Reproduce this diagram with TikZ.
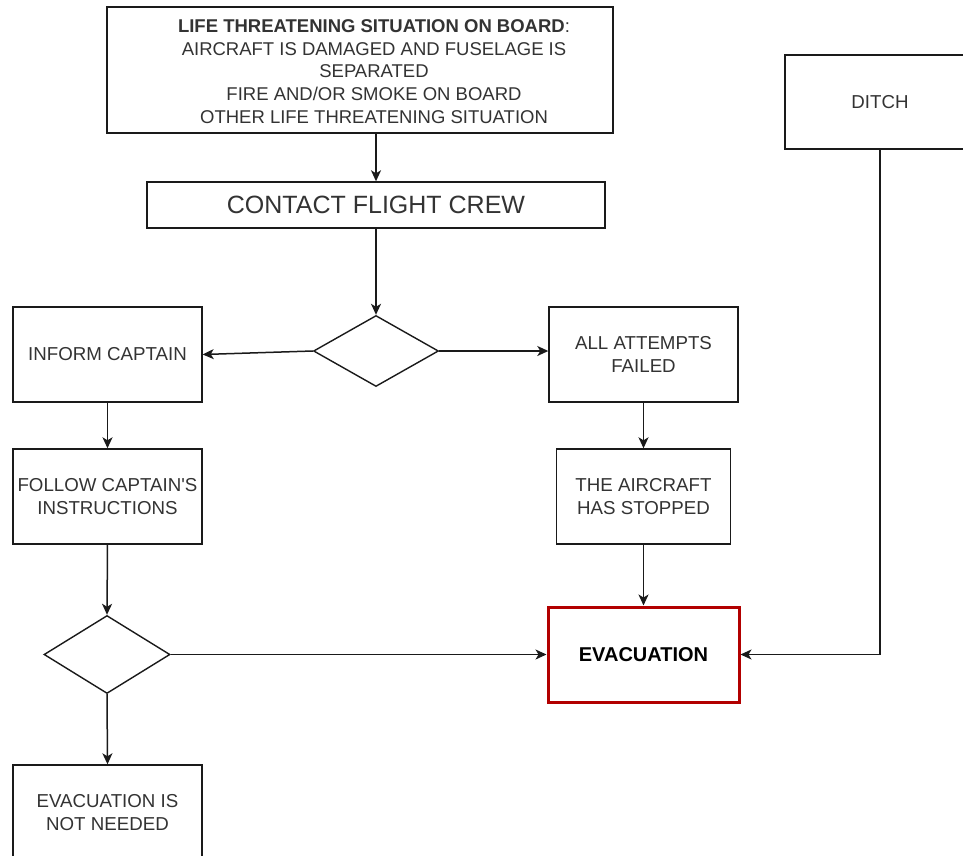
\documentclass[tikz,border=0pt]{standalone}
\usepackage{fontspec}
\setmainfont{Liberation Sans}
\usetikzlibrary{arrows.meta,shapes.geometric}
\definecolor{ln}{HTML}{1A1A1A}
\definecolor{tx}{HTML}{333333}
\definecolor{evred}{HTML}{B20000}
\begin{document}
\begin{tikzpicture}[x=1pt,y=-1pt,
  box/.style={draw=ln,line width=1.4pt,rectangle,inner sep=0pt,align=center,text=tx,
    font=\fontsize{18.7}{23}\selectfont},
  dia/.style={draw=ln,line width=1.4pt,diamond,inner sep=0pt},
  arr/.style={draw=ln,line width=1.5pt,-{Stealth[length=11pt,width=10pt,inset=3pt]}}]
\useasboundingbox (0,0) rectangle (963,856);
\clip (0,0) rectangle (963,856);
\fill[white] (0,0) rectangle (963,856);

\node[box,minimum width=506pt,minimum height=126pt] (top) at (360,70) {};
\node[align=center,text=tx,inner sep=0pt,font=\fontsize{18.5}{22.7}\selectfont] (toptext) at (374,71.5)
  {\textbf{LIFE THREATENING SITUATION ON BOARD}:\\AIRCRAFT IS DAMAGED AND FUSELAGE IS\\SEPARATED\\FIRE AND/OR SMOKE ON BOARD\\OTHER LIFE THREATENING SITUATION};
\node[box,minimum width=458pt,minimum height=46pt,font=\fontsize{25}{30}\selectfont] (contact) at (376,205) {CONTACT FLIGHT CREW};
\node[dia,minimum width=125pt,minimum height=71pt] (d1) at (376,351) {};
\node[box,minimum width=189pt,minimum height=95pt] (inform) at (107.5,354.5) {INFORM CAPTAIN};
\node[box,minimum width=189pt,minimum height=95pt] (attempts) at (643.5,354.5) {ALL ATTEMPTS\\FAILED};
\node[box,minimum width=189pt,minimum height=95pt] (follow) at (107.5,496.5) {FOLLOW CAPTAIN\textquotesingle S\\INSTRUCTIONS};
\node[box,minimum width=174pt,minimum height=95pt] (stopped) at (643.5,496.5) {THE AIRCRAFT\\HAS STOPPED};
\node[dia,minimum width=126pt,minimum height=78pt] (d2) at (107,654.5) {};
\node[box,draw=evred,line width=3pt,minimum width=191pt,minimum height=95pt,text=black,
  font=\fontsize{20}{24}\selectfont\bfseries] (evac) at (643.5,654.5) {EVACUATION};
\node[box,minimum width=190pt,minimum height=94pt] (ditch) at (880,102) {DITCH};
\node[box,minimum width=189pt,minimum height=95pt] (notneeded) at (107.5,812.5) {EVACUATION IS\\NOT NEEDED};

\draw[arr] (contact.north |- top.south) -- (contact.north);
\draw[arr] (contact.south) -- (d1.north);
\draw[arr] (d1.west) -- (inform.east);
\draw[arr] (d1.east) -- (d1.east -| attempts.west);
\draw[arr] (inform.south) -- (follow.north);
\draw[arr] (attempts.south) -- (stopped.north);
\draw[arr] (stopped.south) -- (evac.north);
\draw[arr] (follow.south) -- (d2.north);
\draw[arr] (d2.east) -- (evac.west);
\draw[arr] (d2.south) -- (notneeded.north);
\draw[arr] (ditch.south) |- (evac.east);
\end{tikzpicture}
\end{document}
